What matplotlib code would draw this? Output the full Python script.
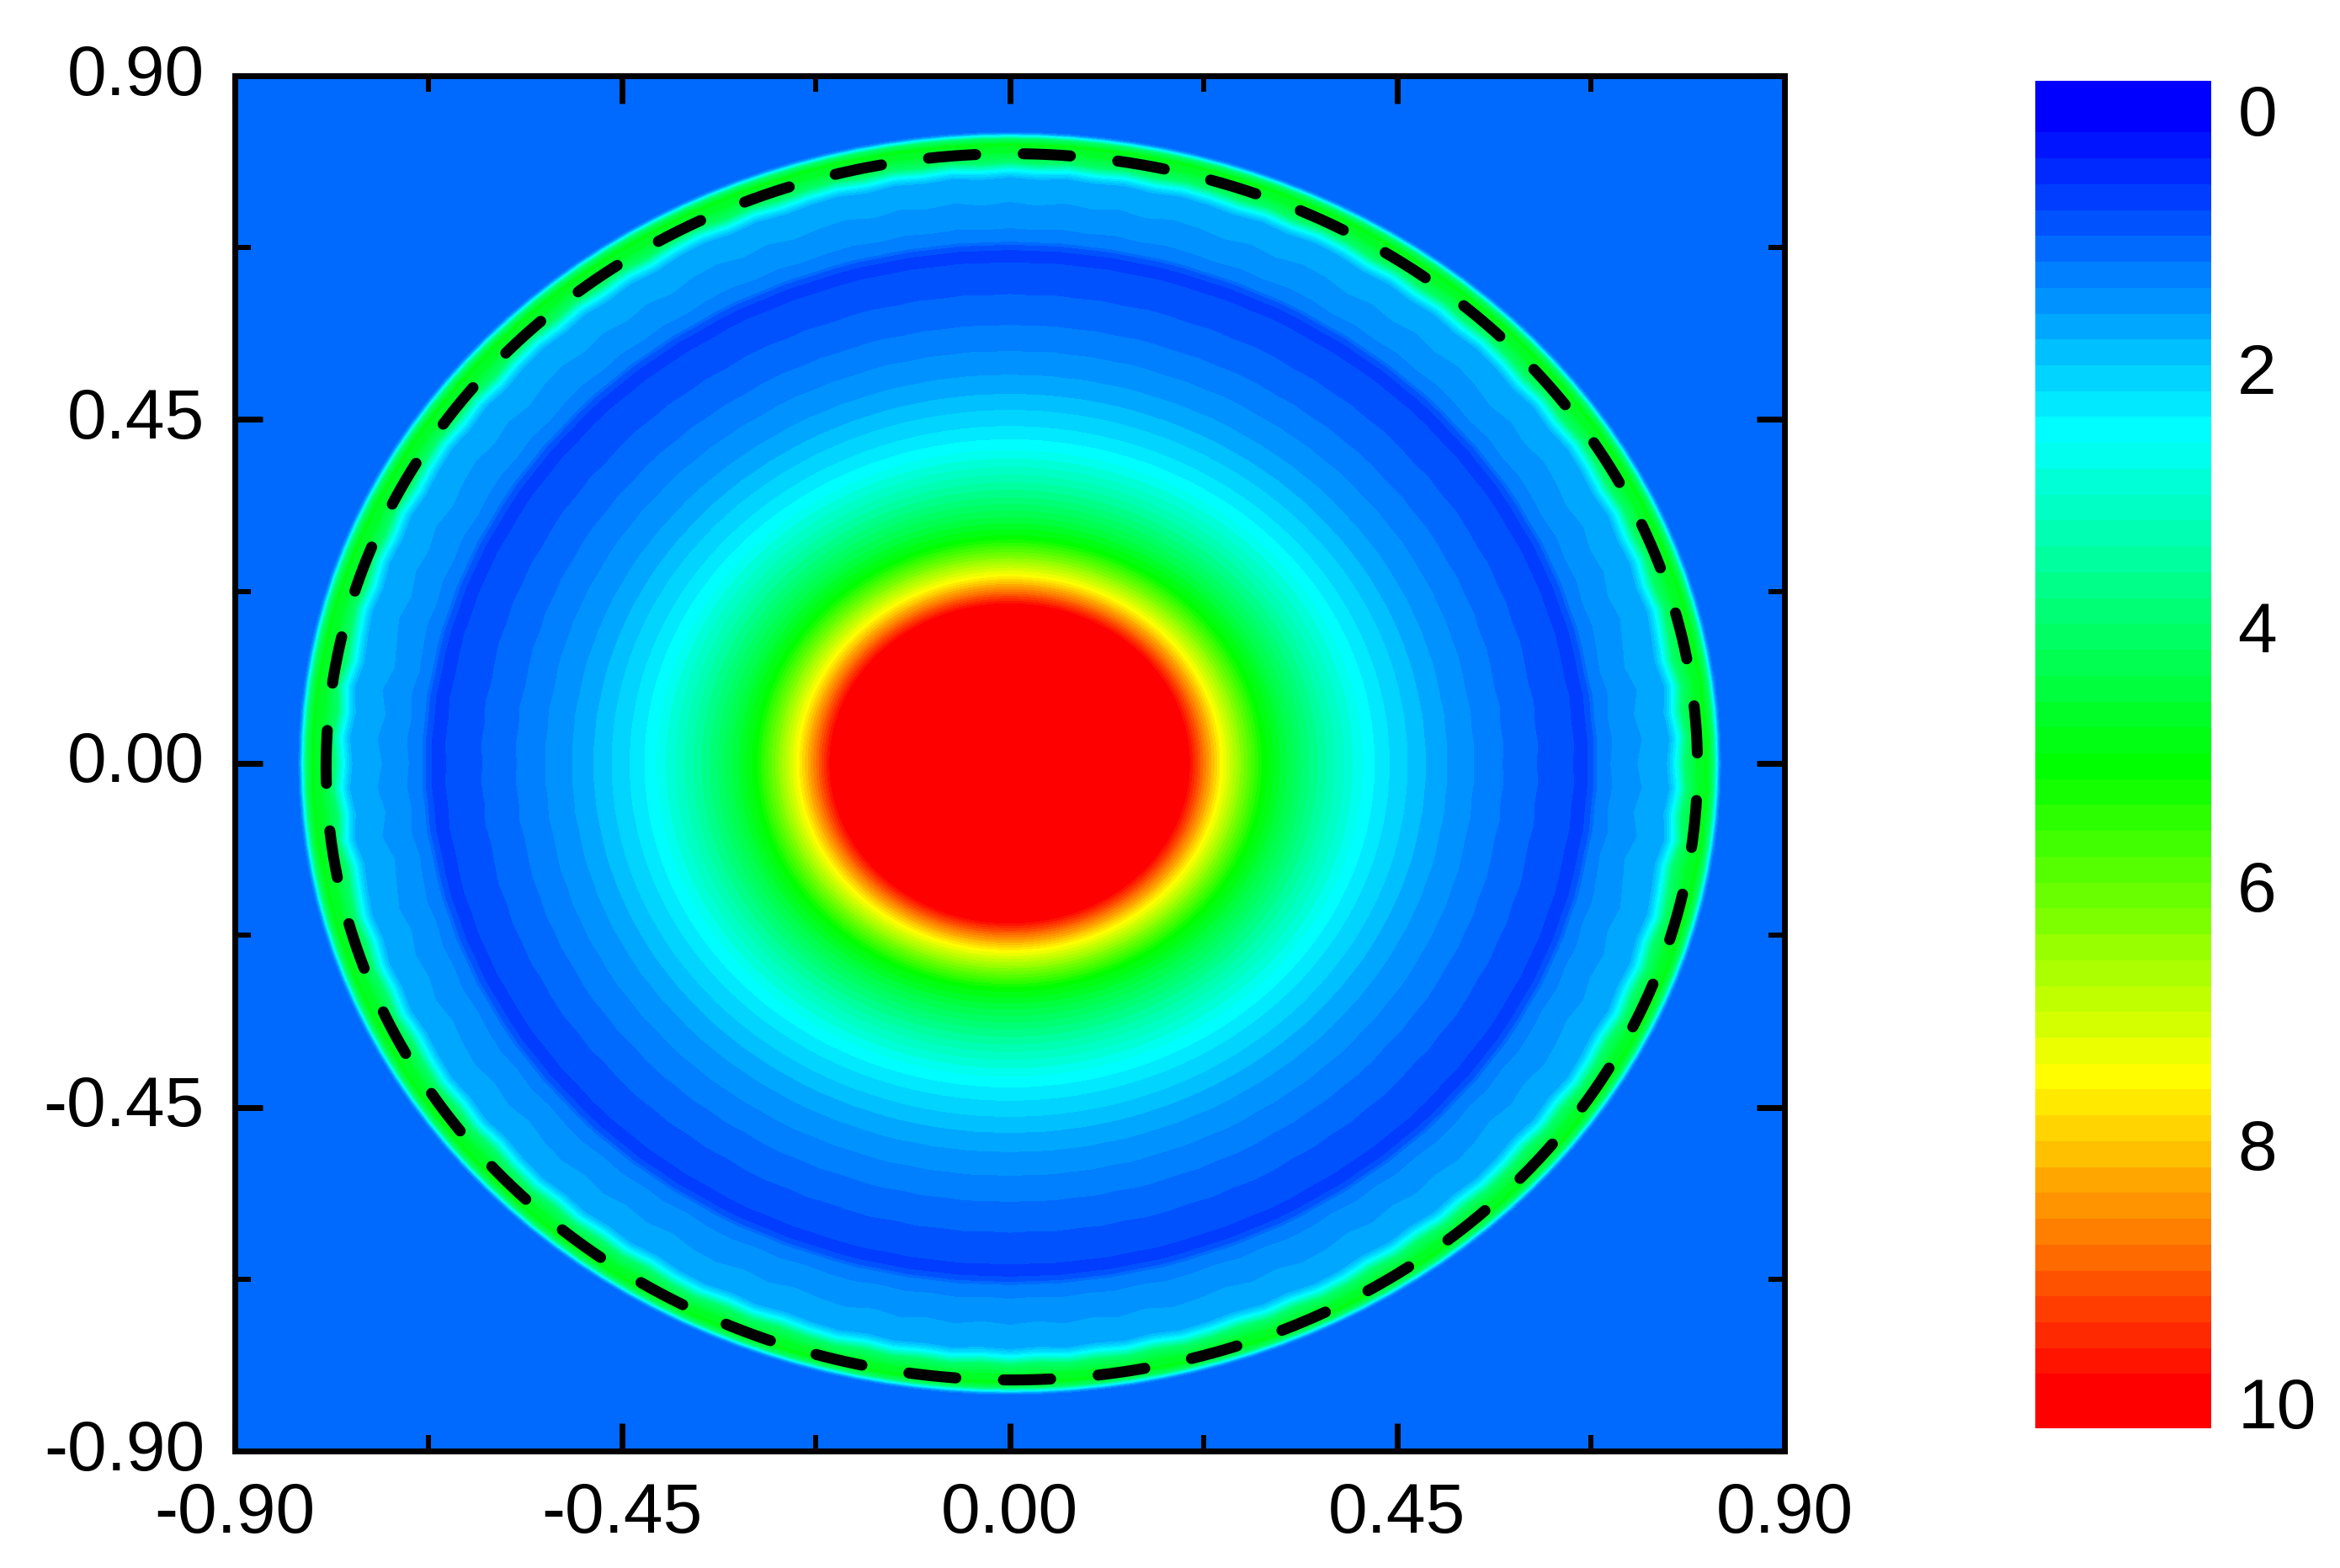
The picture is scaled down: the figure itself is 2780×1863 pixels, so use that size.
import numpy as np
import matplotlib
matplotlib.use("Agg")
import matplotlib.pyplot as plt
from matplotlib.colors import LinearSegmentedColormap, ListedColormap, BoundaryNorm
from matplotlib.transforms import ScaledTranslation

plt.rcParams['font.family'] = ['Liberation Sans', 'DejaVu Sans']

# radial profile
radius = [0.0, 0.10, 0.19, 0.209, 0.227, 0.2455, 0.27, 0.2945, 0.32, 0.348, 0.38, 0.415, 0.4237, 0.441, 0.462,
          0.483, 0.508, 0.539, 0.573, 0.613, 0.655, 0.662, 0.672, 0.679, 0.683, 0.70, 0.733, 0.765,
          0.771, 0.776, 0.781, 0.787, 0.80, 0.81, 0.817, 0.821, 0.824, 0.827, 1.30]
value = [13.0, 12.0, 10.5, 9.76, 8.6, 7.46, 6.25, 5.06, 4.4, 3.75, 3.1, 2.46, 2.36, 2.16, 1.96,
         1.76, 1.56, 1.36, 1.16, 0.96, 0.76, 0.62, 0.76, 0.96, 1.16, 1.36, 1.56, 1.7,
         2.1, 2.5, 3.2, 4.0, 4.6, 4.8, 4.0, 2.5, 1.5, 1.0, 1.0]
# how strongly each ring follows the edge ripple
ripple_weight = [0, 0, 0, 0, 0, 0, 0, 0, 0, 0, 0, 0, 0, 0, 0.05,
                 0.1, 0.2, 0.3, 0.4, 0.5, 0.3, 0.25, 0.25, 0.25, 0.3, 0.8, 1.6, 1.0,
                 0.9, 0.9, 0.9, 0.9, 0.5, 0.15, 0, 0, 0, 0, 0]
# ripple of the ring edges every 2.5 degrees over one quadrant (mirrored to the others)
ripple_quadrant = [-2, 1.5, -3, 1.5, -4.5, -2, 1, -2.5, 1, -1.5, 1.5, -2, 0.5, 2, -1.5, 1, -2.5, 0.5, 2,
                   -1, 1.5, -1.5, 1, -2, 1.5, 2.5, -1, 1.5, -1.5, 1, 2.5, -1, 2, -0.5, 2, -1, 1.5]
dash_cx, dash_cy, dash_rx, dash_ry = 0.0025, -0.0045, 0.7965, 0.8025

# colour scale
band_edges = [-0.24] + [round(0.16 + 0.2 * i, 2) for i in range(49)] + [10.18]
anchor_bands = [0, 12, 25, 37, 49]
anchor_colors = ['#0000ff', '#00ffff', '#00ff00', '#ffff00', '#ff0000']
ticks_major = [-0.90, -0.45, 0.00, 0.45, 0.90]
ticks_minor = [-0.675, -0.225, 0.225, 0.675]
tick_labels = ['-0.90', '-0.45', '0.00', '0.45', '0.90']
bar_ticks = [0, 2, 4, 6, 8, 10]

W, H = 2780, 1863
FS = 60.5
fig = plt.figure(figsize=(W / 100, H / 100), dpi=100, facecolor='white')
L, R, T, B = 279, 2120, 90, 1724
ax = fig.add_axes([L / W, 1 - B / H, (R - L) / W, (B - T) / H])

base = LinearSegmentedColormap.from_list(
    'scale', [(b / 49, c) for b, c in zip(anchor_bands, anchor_colors)], N=256)
cols = [base(k / 49) for k in range(50)]
cmap = ListedColormap(cols).with_extremes(over='#ff0000', under='#0000ff')
norm = BoundaryNorm(band_edges, 50)

q = ripple_quadrant
ripple = np.array(q + q[-2::-1] + q[1:] + q[-2::-1]) * 0.001   # 0..360 degrees, 145 nodes
th = np.deg2rad(np.arange(len(ripple)) * 2.5)
RR = np.array(radius)[None, :] + ripple[:, None] * np.array(ripple_weight)[None, :]
TH = np.tile(th[:, None], (1, len(radius)))
ZZ = np.tile(np.array(value), (len(th), 1))
ax.contourf(RR * np.cos(TH), RR * np.sin(TH), ZZ, levels=band_edges, cmap=cmap, norm=norm, extend='both')

t = np.linspace(np.pi - 0.05, 3 * np.pi - 0.05, 1441)
ax.plot(dash_cx + dash_rx * np.cos(t), dash_cy + dash_ry * np.sin(t), color='black', lw=9.4,
        dash_capstyle='round', linestyle=(0, (4.3, 4.33)))

ax.set_xlim(-0.9, 0.9)
ax.set_ylim(-0.9, 0.9)
ax.set_xticks(ticks_major)
ax.set_yticks(ticks_major)
ax.set_xticklabels(tick_labels)
ax.set_yticklabels(tick_labels)
ax.set_xticks(ticks_minor, minor=True)
ax.set_yticks(ticks_minor, minor=True)
ax.tick_params(which='major', direction='in', length=24, width=5, top=True, right=True, labelsize=FS, pad=26)
ax.tick_params(which='minor', direction='in', length=14, width=4.3, top=True, right=True)
for s in ax.spines.values():
    s.set_linewidth(5)
ax.set_axisbelow(False)
up = ScaledTranslation(0, 8 / 100, fig.dpi_scale_trans)
for lab in ax.get_yticklabels():
    lab.set_transform(lab.get_transform() + up)

# colour bar
cax = fig.add_axes([2418 / W, 1 - 1697 / H, (2627 - 2418) / W, (1697 - 96) / H])
cax.pcolormesh([0, 1], band_edges, np.arange(50)[:, None], cmap=ListedColormap(cols), vmin=-0.5, vmax=49.5)
cax.set_ylim(10.18, -0.24)
cax.set_xticks([])
cax.set_yticks(bar_ticks)
cax.set_yticklabels([str(v) for v in bar_ticks])
cax.yaxis.tick_right()
cax.tick_params(axis='y', length=0, labelsize=FS, pad=22.5)
up2 = ScaledTranslation(0, 2.5 / 100, fig.dpi_scale_trans)
for lab in cax.get_yticklabels():
    lab.set_transform(lab.get_transform() + up2)
for s in cax.spines.values():
    s.set_visible(False)

fig.savefig('out.png', dpi=100)
